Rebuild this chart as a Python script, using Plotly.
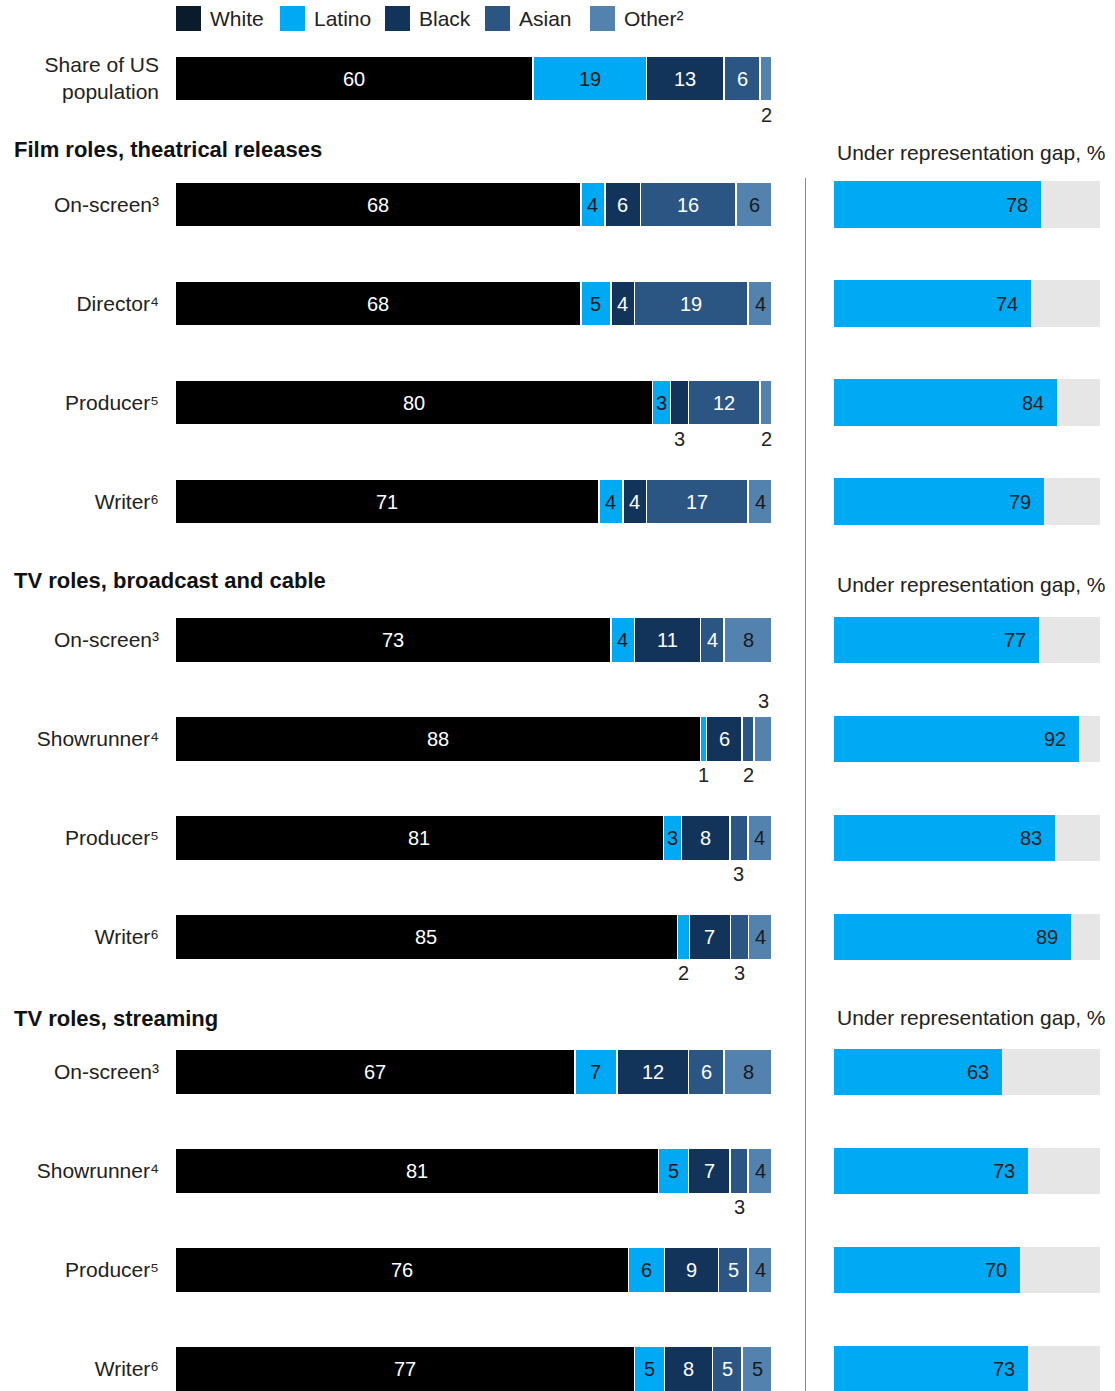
import plotly.graph_objects as go

# ---- data -------------------------------------------------------------
SERIES = ["White", "Latino", "Black", "Asian", "Other"]
SERIES_LABELS = ["White", "Latino", "Black", "Asian", "Other²"]

population = [60, 19, 13, 6, 2]

film_roles = ["On-screen", "Director", "Producer", "Writer"]
film_notes = ["³", "⁴", "⁵", "⁶"]
film_white = [68, 68, 80, 71]
film_latino = [4, 5, 3, 4]
film_black = [6, 4, 3, 4]
film_asian = [16, 19, 12, 17]
film_other = [6, 4, 2, 4]
film_gap = [78, 74, 84, 79]

tv_roles = ["On-screen", "Showrunner", "Producer", "Writer"]
tv_notes = ["³", "⁴", "⁵", "⁶"]

broadcast_white = [73, 88, 81, 85]
broadcast_latino = [4, 1, 3, 2]
broadcast_black = [11, 6, 8, 7]
broadcast_asian = [4, 2, 3, 3]
broadcast_other = [8, 3, 4, 4]
broadcast_gap = [77, 92, 83, 89]

streaming_white = [67, 81, 76, 77]
streaming_latino = [7, 5, 6, 5]
streaming_black = [12, 7, 9, 8]
streaming_asian = [6, 3, 5, 5]
streaming_other = [8, 4, 4, 5]
streaming_gap = [63, 73, 70, 73]

# ---- style ------------------------------------------------------------
W, H = 1115, 1391
FONT = "Liberation Sans"
TXT = "#222222"
FS = 20
FS_TICK = 21
COLORS = ["#000000", "#00A9F4", "#13345A", "#2B5583", "#5482AF"]
SWATCH = ["#0A1C2B", "#00A9F4", "#13345A", "#2B5583", "#5482AF"]
TEXT_COLORS = ["#ffffff", "#1a1a1a", "#ffffff", "#ffffff", "#1a1a1a"]
GAP_BG = "#E6E6E6"

# small segments whose value sits outside the bar
OUTSIDE = {
    ("pop", 0, "Other"): "below",
    ("film", 2, "Black"): "below",
    ("film", 2, "Other"): "below",
    ("broadcast", 1, "Latino"): "below",
    ("broadcast", 1, "Asian"): "below",
    ("broadcast", 1, "Other"): "above",
    ("broadcast", 2, "Asian"): "below",
    ("broadcast", 3, "Latino"): "below",
    ("broadcast", 3, "Asian"): "below",
    ("streaming", 1, "Asian"): "below",
}


def px_x(p):
    return p / W


def px_y(p):
    return 1 - p / H


sections = [
    dict(key="pop", axis="y", roles=["Share of US population"],
         ticks=["Share of US<br>population"],
         values=[[v] for v in population], gap=None,
         dom=(29, 128)),
    dict(key="film", axis="y2", roles=film_roles,
         ticks=[r + n for r, n in zip(film_roles, film_notes)],
         values=[film_white, film_latino, film_black, film_asian, film_other],
         gap=film_gap, dom=(155, 551),
         title="Film roles, theatrical releases", title_y=149, gap_y=153),
    dict(key="broadcast", axis="y3", roles=tv_roles,
         ticks=[r + n for r, n in zip(tv_roles, tv_notes)],
         values=[broadcast_white, broadcast_latino, broadcast_black,
                 broadcast_asian, broadcast_other],
         gap=broadcast_gap, dom=(590.5, 986.5),
         title="TV roles, broadcast and cable", title_y=580, gap_y=584),
    dict(key="streaming", axis="y4", roles=tv_roles,
         ticks=[r + n for r, n in zip(tv_roles, tv_notes)],
         values=[streaming_white, streaming_latino, streaming_black,
                 streaming_asian, streaming_other],
         gap=streaming_gap, dom=(1022.5, 1418.5),
         title="TV roles, streaming", title_y=1018, gap_y=1017),
]

fig = go.Figure()
annotations = []
shapes = []
layout_axes = {}
ROW_PX = 99

for sec in sections:
    ax = sec["axis"]
    n = len(sec["roles"])
    rows = list(range(n))
    totals = [sum(vals[i] for vals in sec["values"]) for i in rows]
    cum = [0.0] * n
    for s, name in enumerate(SERIES):
        vals = sec["values"][s]
        for i in rows:
            place = OUTSIDE.get((sec["key"], i, name))
            centre = (cum[i] + vals[i] / 2) / totals[i] * 100
            shift = 0
            color = TEXT_COLORS[s]
            if place:
                shift = -36 if place == "below" else 38
                color = TXT
            annotations.append(dict(
                x=centre, y=i, xref="x", yref=ax, text=str(vals[i]),
                showarrow=False, xanchor="center", yanchor="middle",
                yshift=shift, font=dict(family=FONT, size=FS, color=color)))
            cum[i] += vals[i]
        fig.add_trace(go.Bar(
            x=vals, y=rows, orientation="h", xaxis="x", yaxis=ax,
            name=name, marker=dict(color=COLORS[s],
                                   line=dict(color="#ffffff", width=1.5)),
            width=0.455, showlegend=False, hoverinfo="skip"))

    if sec["gap"] is not None:
        gap = sec["gap"]
        rest = [100 - g for g in gap]
        fig.add_trace(go.Bar(
            x=gap, y=rows, orientation="h", xaxis="x2", yaxis=ax,
            marker=dict(color=COLORS[1], line=dict(width=0)), width=0.47,
            showlegend=False, hoverinfo="skip"))
        fig.add_trace(go.Bar(
            x=rest, y=rows, orientation="h", xaxis="x2", yaxis=ax,
            marker=dict(color=GAP_BG, line=dict(width=0)), width=0.47,
            showlegend=False, hoverinfo="skip"))
        for i, g in enumerate(gap):
            annotations.append(dict(
                x=g, y=i, xref="x2", yref=ax, text=str(g), showarrow=False,
                xanchor="right", yanchor="middle", xshift=-11,
                font=dict(family=FONT, size=FS, color=TXT)))
        annotations.append(dict(
            x=px_x(12), y=px_y(sec["title_y"]), xref="paper", yref="paper",
            text=f"<b>{sec['title']}</b>", showarrow=False, xanchor="left",
            yanchor="middle", font=dict(family=FONT, size=22, color="#111111")))
        annotations.append(dict(
            x=px_x(835), y=px_y(sec["gap_y"]), xref="paper", yref="paper",
            text="Under representation gap, %", showarrow=False,
            xanchor="left", yanchor="middle",
            font=dict(family=FONT, size=21, color=TXT)))

    top, bottom = sec["dom"]
    bottom_clip = min(bottom, H)
    cut_units = (bottom - bottom_clip) / ROW_PX
    axis_name = "yaxis" if ax == "y" else "yaxis" + ax[1:]
    layout_axes[axis_name] = dict(
        domain=[px_y(bottom_clip), px_y(top)], anchor="x",
        range=[n - 0.5 - cut_units, -0.5], tickmode="array",
        tickvals=rows, ticktext=sec["ticks"], showgrid=False,
        zeroline=False, showline=False, ticks="",
        ticklabelstandoff=15, fixedrange=True,
        tickfont=dict(family=FONT, size=FS_TICK, color=TXT))

# legend drawn as swatches with labels
legend_x = [176, 280, 385, 485, 590]
for s, lx in enumerate(legend_x):
    shapes.append(dict(type="rect", xref="paper", yref="paper",
                       x0=px_x(lx), x1=px_x(lx + 25),
                       y0=px_y(31), y1=px_y(6),
                       fillcolor=SWATCH[s], line=dict(width=0)))
    annotations.append(dict(
        x=px_x(lx + 32), y=px_y(19), xref="paper", yref="paper",
        text=SERIES_LABELS[s], showarrow=False, xanchor="left",
        yanchor="middle", font=dict(family=FONT, size=FS_TICK, color=TXT)))

# divider between the two columns
shapes.append(dict(type="line", xref="paper", yref="paper",
                   x0=px_x(805.5), x1=px_x(805.5), y0=px_y(178), y1=0,
                   line=dict(color="#8a8a8a", width=1)))

fig.update_layout(
    width=W, height=H, margin=dict(l=0, r=0, t=0, b=0),
    paper_bgcolor="#ffffff", plot_bgcolor="rgba(0,0,0,0)",
    barmode="stack", barnorm="percent",
    font=dict(family=FONT, size=FS, color=TXT),
    xaxis=dict(domain=[px_x(175), px_x(772)], range=[0, 100], visible=False,
               fixedrange=True, anchor="y"),
    xaxis2=dict(domain=[px_x(834), px_x(1100)], range=[0, 100],
                visible=False, fixedrange=True, anchor="y2"),
    annotations=annotations, shapes=shapes, showlegend=False,
    **layout_axes)

fig.write_html("out.html")
